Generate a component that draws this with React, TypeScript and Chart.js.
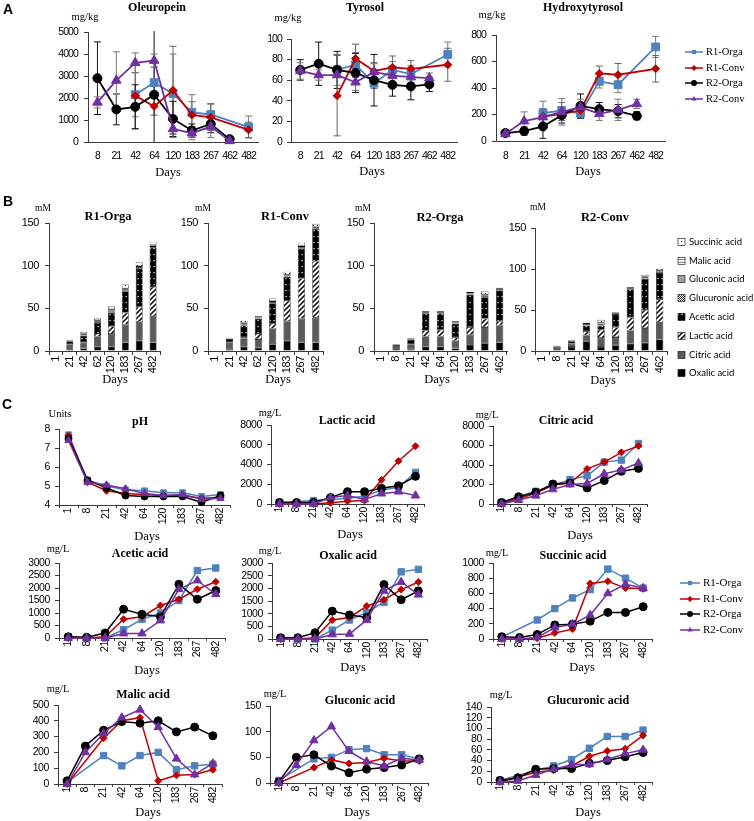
import React, { useEffect, useRef } from 'react';
import { Chart, registerables } from 'chart.js';

Chart.register(...registerables);

const W = 754;
const H = 821;
const SERIF = '"Liberation Serif", "Times New Roman", serif';
const SANS = '"Liberation Sans", Arial, sans-serif';
const LEGSANS = 'Lato, "Liberation Sans", Arial, sans-serif';
const ARIAL = '"Liberation Sans", Arial, sans-serif';
const AXIS = '#3a3a3a';

// ---------- series (A and C) ----------
const seriesNames = ['R1-Orga', 'R1-Conv', 'R2-Orga', 'R2-Conv'];
const seriesColors = ['#4F81BD', '#C00000', '#000000', '#7030A0'];
const seriesMarkers = ['rect', 'rectRot', 'circle', 'triangle'];
const seriesOrder = [3, 2, 1, 0];
const errorColors = ['#777777', '#666666', '#111111', '#777777'];

// ---------- Section A ----------
const daysA = ['8', '21', '42', '64', '120', '183', '267', '462', '482'];

const oleuR1Orga = [null, null, 2150, 2700, 2200, 1350, 1250, null, 680];
const oleuR1Conv = [null, null, 2100, 1620, 2350, 1230, 1120, null, 550];
const oleuR2Orga = [2900, 1480, 1600, 2150, 1050, 520, 820, 130, null];
const oleuR2Conv = [1800, 2800, 3600, 3700, 600, 400, 700, 50, null];
const oleuErrR1Orga = [null, null, 1000, 700, 1800, 800, 500, null, 500];
const oleuErrR1Conv = [null, null, 1500, 400, 2000, 600, 600, null, 350];
const oleuErrR2Orga = [1650, 700, 1000, 3000, 800, 300, 400, 100, null];
const oleuErrR2Conv = [250, 1300, 450, 300, 400, 300, 500, 50, null];

const tyrR1Orga = [null, null, 70, 75, 57, 70, 66, null, 85];
const tyrR1Conv = [null, null, 45, 81, 69, 72.5, 71, null, 75];
const tyrR2Orga = [70, 76, 70, 67, 60, 55.5, 54, 56, null];
const tyrR2Conv = [69, 65, 65, 58, 68, 64.5, 63, 62, null];
const tyrErrR1Orga = [null, null, 15, 12, 5, 8, 8, null, 12];
const tyrErrR1Conv = [null, null, 39, 14, 8, 11, 8, null, 16];
const tyrErrR2Orga = [10, 21, 18, 19, 25, 11, 13, 7, null];
const tyrErrR2Conv = [8, 5, 20, 8, 8, 6, 8, 5, null];

const hydR1Orga = [null, null, 210, 230, 210, 450, 425, null, 710];
const hydR1Conv = [null, null, 185, 205, 230, 510, 500, null, 545];
const hydR2Orga = [60, 75, 110, 195, 265, 240, 225, 190, null];
const hydR2Conv = [55, 150, 180, 220, 255, 205, 235, 280, null];
const hydErrR1Orga = [null, null, 90, 60, 40, 50, 60, null, 80];
const hydErrR1Conv = [null, null, 60, 50, 60, 55, 85, null, 100];
const hydErrR2Orga = [20, 30, 90, 60, 90, 50, 50, 30, null];
const hydErrR2Conv = [15, 70, 50, 100, 60, 50, 80, 35, null];

// ---------- Section B ----------
const acidNames = ['Oxalic acid', 'Citric acid', 'Lactic acid', 'Acetic acid', 'Glucuronic acid', 'Gluconic acid', 'Malic acid', 'Succinic acid'];
const daysBR1 = ['1', '21', '42', '62', '120', '183', '267', '482'];
const daysBR2 = ['1', '8', '21', '42', '64', '120', '183', '267', '462'];

const r1OrgaOxalic = [0, 1.5, 3, 5, 5, 10, 12, 10];
const r1OrgaCitric = [0, 6.5, 6, 12, 15, 21, 22, 31];
const r1OrgaLactic = [0, 0, 1, 3, 9, 14, 18, 34];
const r1OrgaAcetic = [0, 3.5, 8, 13, 16, 25, 44, 46];
const r1OrgaGlucuronic = [0, 0.3, 0.5, 1, 1, 1, 1, 1];
const r1OrgaGluconic = [0, 0.5, 1, 1, 1.5, 1.5, 1.5, 1.5];
const r1OrgaMalic = [0, 0.3, 1, 1, 1.5, 1, 1, 1];
const r1OrgaSuccinic = [0, 0.5, 2, 2, 3.5, 4.5, 4.5, 3.5];

const r1ConvOxalic = [0, 2, 5, 4, 8, 12, 10, 10];
const r1ConvCitric = [0, 8, 10, 10, 18, 23, 28, 29];
const r1ConvLactic = [0, 0, 1, 6, 6, 24, 47, 66];
const r1ConvAcetic = [0, 4, 14, 18, 24, 28, 35, 38];
const r1ConvGlucuronic = [0, 0.3, 1, 0.5, 0.5, 0.5, 1, 0.5];
const r1ConvGluconic = [0, 0.3, 1, 0.5, 1, 1, 1, 1];
const r1ConvMalic = [0, 0.2, 1, 0.5, 1, 1, 1, 1];
const r1ConvSuccinic = [0, 0.5, 2.5, 1.5, 3, 3.5, 4, 3.5];

const r2OrgaOxalic = [0, 0.5, 2, 5, 5, 3, 7, 9, 10];
const r2OrgaCitric = [0, 6.5, 6, 12, 12, 9, 12, 19, 20];
const r2OrgaLactic = [0, 0, 0, 7, 8, 4, 9, 10, 5];
const r2OrgaAcetic = [0, 0, 5, 20, 19, 16, 38, 25, 36];
const r2OrgaGlucuronic = [0, 0, 0.5, 0.5, 0.5, 0.5, 0.5, 0.5, 0.5];
const r2OrgaGluconic = [0, 0.5, 1, 1, 1, 1, 1, 1.5, 1];
const r2OrgaMalic = [0, 0.3, 0.5, 0.5, 0.5, 0.5, 0.5, 1, 0.5];
const r2OrgaSuccinic = [0, 0.5, 0.5, 1, 1, 1, 1.5, 4, 1];

const r2ConvOxalic = [0, 0.5, 5, 12, 5, 7, 9, 10, 14];
const r2ConvCitric = [0, 4.5, 4, 7, 11, 10, 16, 18, 21];
const r2ConvLactic = [0, 0, 0, 5, 10, 12, 16, 22, 28];
const r2ConvAcetic = [0, 0.5, 3, 7, 5, 16, 34, 38, 32];
const r2ConvGlucuronic = [0, 0, 0.3, 0.5, 0.5, 0.5, 0.5, 0.5, 0.5];
const r2ConvGluconic = [0, 0.5, 0.5, 1, 1, 1, 1, 1.5, 1.5];
const r2ConvMalic = [0, 0.3, 0.2, 0.5, 2, 0.5, 0.5, 1, 1];
const r2ConvSuccinic = [0, 0.2, 0.5, 1, 3.5, 0.5, 1, 2, 2];

// ---------- Section C ----------
const daysC = ['1', '8', '21', '42', '64', '120', '183', '267', '482'];

const phR1Orga = [7.7, 5.3, 5.0, 4.8, 4.75, 4.65, 4.65, 4.45, 4.55];
const phR1Conv = [7.65, 5.2, 4.75, 4.6, 4.55, 4.5, 4.5, 4.35, 4.4];
const phR2Orga = [7.5, 5.3, 4.9, 4.5, 4.45, 4.45, 4.45, 4.15, 4.5];
const phR2Conv = [7.4, 5.2, 5.05, 4.85, 4.6, 4.5, 4.55, 4.3, 4.35];

const lacR1Orga = [150, null, 350, 450, 550, 800, 1400, 1700, 3200];
const lacR1Conv = [0, null, 0, 120, 280, 350, 2450, 4350, 5850];
const lacR2Orga = [150, 150, 150, 650, 1250, 1250, 1600, 1850, 2800];
const lacR2Conv = [0, 0, 0, 650, 850, 450, 1050, 1250, 850];

const citR1Orga = [150, null, 1300, 1900, 2500, 2900, 4300, 4500, 6200];
const citR1Conv = [0, null, 1100, 1950, 2150, 3600, 4300, 5300, 5950];
const citR2Orga = [150, 750, 1200, 2050, 2150, 1650, 2400, 3350, 3650];
const citR2Conv = [0, 400, 850, 1500, 2000, 2100, 3100, 3500, 4200];

const aceR1Orga = [50, 0, 0, 330, 750, 1000, 1500, 2700, 2800];
const aceR1Conv = [0, 0, 50, 750, 850, 1300, 1550, 1950, 2250];
const aceR2Orga = [50, 30, 200, 1150, 950, 850, 2150, 1550, 1900];
const aceR2Conv = [0, 0, 0, 180, 180, 700, 1950, 2300, 1750];

const oxaR1Orga = [50, 0, 0, 350, 750, 1050, 1450, 2650, 2750];
const oxaR1Conv = [0, 0, 50, 750, 850, 1300, 1550, 1950, 2250];
const oxaR2Orga = [50, 50, 250, 1100, 950, 850, 2150, 1550, 1900];
const oxaR2Conv = [0, 0, 0, 180, 200, 750, 1900, 2250, 1750];

const sucR1Orga = [25, null, 250, 400, 540, 650, 920, 800, 670];
const sucR1Conv = [0, 0, 10, 80, 130, 730, 760, 670, 660];
const sucR2Orga = [30, 20, 60, 185, 195, 235, 350, 350, 425];
const sucR2Conv = [0, 0, 20, 150, 195, 315, 600, 720, 670];

const malR1Orga = [10, null, 180, 115, 180, 200, 90, 115, 125];
const malR1Conv = [0, null, 290, 400, 420, 20, 55, 60, 90];
const malR2Orga = [20, 240, 340, 395, 385, 400, 330, 360, 305];
const malR2Conv = [0, 200, 320, 420, 470, 360, 160, 60, 130];

const gluR1Orga = [5, null, 47, 50, 65, 67, 55, 55, 47];
const gluR1Conv = [0, null, 30, 45, 38, 40, 48, 43, 43];
const gluR2Orga = [2, 50, 55, 33, 20, 27, 30, 35, 47];
const gluR2Conv = [0, 35, 83, 110, 62, 42, 33, 48, 45];

const gcuR1Orga = [3, null, 22, 30, 42, 63, 85, 85, 97];
const gcuR1Conv = [0, null, 18, 22, 30, 48, 58, 62, 87];
const gcuR2Orga = [3, 8, 24, 25, 25, 35, 40, 47, 55];
const gcuR2Conv = [0, 2, 13, 24, 32, 33, 42, 53, 60];

// ---------- helpers ----------
const T = (t: string, x: number, y: number, font: string, align = 'center') => ({ t, x, y, font, align });
const titleF = `bold 12px ${SERIF}`;
const unitF = `10.5px ${SERIF}`;
const daysF = `12.5px ${SERIF}`;
const letterF = `bold 14px ${ARIAL}`;

function drawMarker(ctx: any, style: string, x: number, y: number, r: number, color: string) {
  ctx.save();
  ctx.fillStyle = color;
  ctx.beginPath();
  if (style === 'rect') {
    const s = r * Math.SQRT1_2;
    ctx.rect(x - s, y - s, 2 * s, 2 * s);
  } else if (style === 'rectRot') {
    ctx.moveTo(x, y - r); ctx.lineTo(x + r, y); ctx.lineTo(x, y + r); ctx.lineTo(x - r, y); ctx.closePath();
  } else if (style === 'triangle') {
    ctx.moveTo(x, y - r); ctx.lineTo(x + r * 0.866, y + r * 0.5); ctx.lineTo(x - r * 0.866, y + r * 0.5); ctx.closePath();
  } else {
    ctx.arc(x, y, r, 0, Math.PI * 2);
  }
  ctx.fill();
  ctx.restore();
}

function spacingPlugin(sp: string) {
  return {
    id: 'tickSpacing',
    beforeDraw(chart: any) { chart.ctx.letterSpacing = sp; },
    afterDraw(chart: any) { chart.ctx.letterSpacing = '0px'; },
  };
}

function textPlugin(texts: any[]) {
  return {
    id: 'panelTexts',
    afterDraw(chart: any) {
      const ctx = chart.ctx;
      ctx.save();
      ctx.letterSpacing = '0px';
      ctx.fillStyle = '#000';
      ctx.textBaseline = 'middle';
      for (const it of texts) {
        ctx.font = it.font;
        ctx.textAlign = it.align;
        ctx.fillText(it.t, it.x, it.y);
      }
      ctx.restore();
    },
  };
}

function errorPlugin(errors: any[]) {
  return {
    id: 'errorBars',
    beforeDatasetsDraw(chart: any) {
      const ctx = chart.ctx;
      const ys = chart.scales.y;
      const a = chart.chartArea;
      ctx.save();
      ctx.beginPath();
      ctx.rect(a.left, a.top - 1, a.right - a.left, a.bottom - a.top + 1);
      ctx.clip();
      ctx.lineWidth = 1;
      errors.forEach((errs: any[], i: number) => {
        const meta = chart.getDatasetMeta(i);
        const vals = chart.data.datasets[i].data;
        ctx.strokeStyle = errorColors[i];
        errs.forEach((e: any, j: number) => {
          const v = vals[j];
          if (e == null || v == null) return;
          const x = meta.data[j].x;
          const yt = ys.getPixelForValue(v + e);
          const yb = ys.getPixelForValue(v - e);
          ctx.beginPath();
          ctx.moveTo(x, yt); ctx.lineTo(x, yb);
          ctx.moveTo(x - 3.5, yt); ctx.lineTo(x + 3.5, yt);
          ctx.moveTo(x - 3.5, yb); ctx.lineTo(x + 3.5, yb);
          ctx.stroke();
        });
      });
      ctx.restore();
    },
  };
}

function lineLegendPlugin(lg: any) {
  return {
    id: 'lineLegend',
    afterDraw(chart: any) {
      const ctx = chart.ctx;
      ctx.save();
      ctx.letterSpacing = '0px';
      seriesNames.forEach((name, i) => {
        const y = lg.ys[i];
        ctx.strokeStyle = seriesColors[i];
        ctx.lineWidth = 1.5;
        ctx.beginPath(); ctx.moveTo(lg.x0, y); ctx.lineTo(lg.x1, y); ctx.stroke();
        drawMarker(ctx, seriesMarkers[i], (lg.x0 + lg.x1) / 2, y, lg.r, seriesColors[i]);
        ctx.fillStyle = '#000';
        ctx.font = lg.font;
        ctx.textAlign = 'left';
        ctx.textBaseline = 'middle';
        ctx.fillText(name, lg.tx, y);
      });
      ctx.restore();
    },
  };
}

function barLegendPlugin(lg: any) {
  return {
    id: 'barLegend',
    afterDraw(chart: any) {
      const ctx = chart.ctx;
      const ds = chart.data.datasets;
      ctx.save();
      ctx.letterSpacing = '0px';
      for (let k = ds.length - 1, row = 0; k >= 0; k--, row++) {
        const y = lg.ys[row];
        ctx.fillStyle = ds[k].backgroundColor;
        ctx.fillRect(lg.bx, y - lg.s / 2, lg.s, lg.s);
        ctx.strokeStyle = '#000';
        ctx.lineWidth = 0.6;
        ctx.strokeRect(lg.bx, y - lg.s / 2, lg.s, lg.s);
        ctx.fillStyle = '#000';
        ctx.font = lg.font;
        ctx.textAlign = 'left';
        ctx.textBaseline = 'middle';
        ctx.fillText(ds[k].label, lg.tx, y);
      }
      ctx.restore();
    },
  };
}

function makeFills(ctx: any) {
  const tile = (w: number, h: number, draw: (g: any) => void) => {
    const c = document.createElement('canvas');
    c.width = w; c.height = h;
    const g = c.getContext('2d');
    draw(g);
    return ctx.createPattern(c, 'repeat');
  };
  return [
    '#000000',
    '#5a5a5a',
    tile(5, 5, (g) => {
      g.fillStyle = '#fff'; g.fillRect(0, 0, 5, 5);
      g.strokeStyle = '#000'; g.lineWidth = 1.5; g.beginPath();
      g.moveTo(-1, 6); g.lineTo(6, -1); g.moveTo(-3.5, 3.5); g.lineTo(3.5, -3.5); g.moveTo(1.5, 8.5); g.lineTo(8.5, 1.5);
      g.stroke();
    }),
    tile(4, 6, (g) => { g.fillStyle = '#000'; g.fillRect(0, 0, 4, 6); g.fillStyle = '#fff'; g.fillRect(1.5, 2, 1.2, 1.2); }),
    tile(2, 2, (g) => { g.fillStyle = '#fff'; g.fillRect(0, 0, 2, 2); g.fillStyle = '#333'; g.fillRect(0, 0, 1, 1); g.fillRect(1, 1, 1, 1); }),
    '#a0a0a0',
    tile(4, 3, (g) => { g.fillStyle = '#fff'; g.fillRect(0, 0, 4, 3); g.fillStyle = '#666'; g.fillRect(0, 1, 4, 0.8); }),
    tile(4, 4, (g) => { g.fillStyle = '#fff'; g.fillRect(0, 0, 4, 4); g.fillStyle = '#222'; g.fillRect(1, 1, 1, 1); }),
  ];
}

// ---------- panels ----------
const radA = [5.5, 4, 4.5, 5.5];
const radC = [4.5, 3.5, 4, 4.8];
const legA = { x0: 685, x1: 703, tx: 706, ys: [52, 68, 83, 99], r: 3, font: `10.5px ${SERIF}` };
const legC = { x0: 680, x1: 700, tx: 703, ys: [583, 599, 614, 630], r: 3, font: `11px ${SERIF}` };
const legB = { bx: 678, s: 7, tx: 689, ys: [242, 261, 279, 298, 317, 336, 355, 373], font: `9.5px ${LEGSANS}` };

const panels: any[] = [
  {
    kind: 'line', labels: daysA, values: [oleuR1Orga, oleuR1Conv, oleuR2Orga, oleuR2Conv],
    errors: [oleuErrR1Orga, oleuErrR1Conv, oleuErrR2Orga, oleuErrR2Conv], sp: '-0.9px',
    plot: [88, 32, 258, 142], y: [0, 5000, 1000], rotate: false, radii: radA, lw: 1.8, tick: 10.5, xTick: 0, xPad: 8, yPad: 6,
    texts: [T('A', 8, 10, letterF), T('Oleuropein', 157, 8, titleF), T('mg/kg', 85, 17, unitF), T('Days', 168, 173, daysF)],
  },
  {
    kind: 'line', labels: daysA, values: [tyrR1Orga, tyrR1Conv, tyrR2Orga, tyrR2Conv],
    errors: [tyrErrR1Orga, tyrErrR1Conv, tyrErrR2Orga, tyrErrR2Conv], sp: '-0.9px',
    plot: [291, 39, 457, 142], y: [0, 100, 20], rotate: false, radii: radA, lw: 1.8, tick: 10.5, xTick: 0, xPad: 8, yPad: 5,
    texts: [T('Tyrosol', 365, 8, titleF), T('mg/kg', 288, 18, unitF), T('Days', 372, 172, daysF)],
  },
  {
    kind: 'line', labels: daysA, values: [hydR1Orga, hydR1Conv, hydR2Orga, hydR2Conv],
    errors: [hydErrR1Orga, hydErrR1Conv, hydErrR2Orga, hydErrR2Conv], sp: '-0.9px',
    plot: [496, 35, 665, 141], y: [0, 800, 200], rotate: false, radii: radA, lw: 1.8, tick: 10.5, xTick: 0, xPad: 9, yPad: 6,
    texts: [T('Hydroxytyrosol', 583, 8, titleF), T('mg/kg', 492, 15, unitF), T('Days', 588, 172, daysF)],
    legend: legA,
  },
  {
    kind: 'bar', labels: daysBR1,
    stacks: [r1OrgaOxalic, r1OrgaCitric, r1OrgaLactic, r1OrgaAcetic, r1OrgaGlucuronic, r1OrgaGluconic, r1OrgaMalic, r1OrgaSuccinic],
    plot: [49, 223, 160, 351], y: [0, 150, 50], rotate: true, tick: 11, xTick: 4, xPad: 1, yPad: 6,
    texts: [T('B', 8, 202, letterF), T('R1-Orga', 108, 217, `bold 12.5px ${SERIF}`), T('mM', 43, 208, `9.5px ${SERIF}`), T('Days', 115, 380, daysF)],
  },
  {
    kind: 'bar', labels: daysBR1,
    stacks: [r1ConvOxalic, r1ConvCitric, r1ConvLactic, r1ConvAcetic, r1ConvGlucuronic, r1ConvGluconic, r1ConvMalic, r1ConvSuccinic],
    plot: [208, 223, 323, 351], y: [0, 150, 50], rotate: true, tick: 11, xTick: 4, xPad: 1, yPad: 6,
    texts: [T('R1-Conv', 285, 217, `bold 12.5px ${SERIF}`), T('mM', 203, 208, `9.5px ${SERIF}`), T('Days', 278, 380, daysF)],
  },
  {
    kind: 'bar', labels: daysBR2,
    stacks: [r2OrgaOxalic, r2OrgaCitric, r2OrgaLactic, r2OrgaAcetic, r2OrgaGlucuronic, r2OrgaGluconic, r2OrgaMalic, r2OrgaSuccinic],
    plot: [374, 223, 507, 351], y: [0, 150, 50], rotate: true, tick: 11, xTick: 4, xPad: 1, yPad: 6,
    texts: [T('R2-Orga', 440, 218, `bold 12.5px ${SERIF}`), T('mM', 363, 208, `9.5px ${SERIF}`), T('Days', 437, 380, daysF)],
  },
  {
    kind: 'bar', labels: daysBR2,
    stacks: [r2ConvOxalic, r2ConvCitric, r2ConvLactic, r2ConvAcetic, r2ConvGlucuronic, r2ConvGluconic, r2ConvMalic, r2ConvSuccinic],
    plot: [535, 228, 667, 351], y: [0, 150, 50], rotate: true, tick: 11, xTick: 4, xPad: 1, yPad: 5,
    texts: [T('R2-Conv', 605, 218, `bold 12.5px ${SERIF}`), T('mM', 538, 207, `9.5px ${SERIF}`), T('Days', 603, 381, daysF)],
    legend: legB,
  },
  {
    kind: 'line', labels: daysC, values: [phR1Orga, phR1Conv, phR2Orga, phR2Conv],
    plot: [59, 429, 230, 505], y: [4, 8, 1], rotate: true, radii: [4, 3.5, 3.5, 4.2], lw: 1.5, tick: 10.5, xTick: 3, xPad: 0, yPad: 5,
    texts: [T('C', 7, 405, letterF), T('pH', 140, 422, titleF), T('Units', 60, 414, unitF), T('Days', 147, 537, daysF)],
  },
  {
    kind: 'line', labels: daysC, values: [lacR1Orga, lacR1Conv, lacR2Orga, lacR2Conv],
    plot: [271, 425, 424, 504], y: [0, 8000, 2000], rotate: true, radii: radC, lw: 1.5, tick: 10.5, xTick: 3, xPad: 0, yPad: 5,
    texts: [T('Lactic acid', 347, 421, titleF), T('mg/L', 270, 413, unitF), T('Days', 350, 535, daysF)],
  },
  {
    kind: 'line', labels: daysC, values: [citR1Orga, citR1Conv, citR2Orga, citR2Conv],
    plot: [493, 426, 647, 504], y: [0, 8000, 2000], rotate: true, radii: radC, lw: 1.5, tick: 10.5, xTick: 3, xPad: 0, yPad: 5,
    texts: [T('Citric acid', 566, 421, titleF), T('mg/L', 487, 415, unitF), T('Days', 580, 536, daysF)],
  },
  {
    kind: 'line', labels: daysC, values: [aceR1Orga, aceR1Conv, aceR2Orga, aceR2Conv],
    plot: [59, 563, 225, 638], y: [0, 3000, 500], rotate: true, radii: radC, lw: 1.5, tick: 10.5, xTick: 3, xPad: 0, yPad: 5,
    texts: [T('Acetic acid', 140, 554, titleF), T('mg/L', 58, 549, unitF), T('Days', 147, 671, daysF)],
  },
  {
    kind: 'line', labels: daysC, values: [oxaR1Orga, oxaR1Conv, oxaR2Orga, oxaR2Conv],
    plot: [272, 563, 427, 639], y: [0, 3000, 500], rotate: true, radii: radC, lw: 1.5, tick: 10.5, xTick: 3, xPad: 0, yPad: 5,
    texts: [T('Oxalic acid', 348, 556, titleF), T('mg/L', 270, 551, unitF), T('Days', 353, 668, daysF)],
  },
  {
    kind: 'line', labels: daysC, values: [sucR1Orga, sucR1Conv, sucR2Orga, sucR2Conv],
    plot: [493, 563, 652, 639], y: [0, 1000, 200], rotate: true, radii: radC, lw: 1.5, tick: 10.5, xTick: 3, xPad: 0, yPad: 5,
    texts: [T('Succinic acid', 573, 556, titleF), T('mg/L', 497, 553, unitF), T('Days', 582, 668, daysF)],
    legend: legC,
  },
  {
    kind: 'line', labels: daysC, values: [malR1Orga, malR1Conv, malR2Orga, malR2Conv],
    plot: [58, 705, 222, 784], y: [0, 500, 100], rotate: true, radii: radC, lw: 1.5, tick: 10.5, xTick: 3, xPad: 0, yPad: 5,
    texts: [T('Malic acid', 143, 695, titleF), T('mg/L', 58, 689, unitF), T('Days', 148, 813, daysF)],
  },
  {
    kind: 'line', labels: daysC, values: [gluR1Orga, gluR1Conv, gluR2Orga, gluR2Conv],
    plot: [270, 706, 428, 783], y: [0, 150, 50], rotate: true, radii: radC, lw: 1.5, tick: 10.5, xTick: 3, xPad: 0, yPad: 5,
    texts: [T('Gluconic acid', 360, 701, titleF), T('mg/L', 275, 694, unitF), T('Days', 357, 813, daysF)],
  },
  {
    kind: 'line', labels: daysC, values: [gcuR1Orga, gcuR1Conv, gcuR2Orga, gcuR2Conv],
    plot: [491, 707, 652, 782], y: [0, 140, 20], rotate: true, radii: radC, lw: 1.5, tick: 10.5, xTick: 3, xPad: 0, yPad: 5,
    texts: [T('Glucuronic acid', 588, 701, titleF), T('mg/L', 501, 695, unitF), T('Days', 588, 813, daysF)],
  },
];

function buildConfig(p: any, canvas: HTMLCanvasElement) {
  const [x0, y0, x1, y1] = p.plot;
  const YW = 40;
  const XH = 30;
  const rot = p.rotate ? 90 : 0;
  const isBar = p.kind === 'bar';
  const scales: any = {
    x: {
      type: 'category',
      offset: true,
      stacked: isBar,
      grid: { display: p.xTick > 0, drawOnChartArea: false, drawTicks: p.xTick > 0, tickLength: p.xTick, offset: true, color: AXIS },
      border: { display: true, color: AXIS, width: 1 },
      ticks: { autoSkip: false, minRotation: rot, maxRotation: rot, padding: p.xPad, color: '#000', font: { family: SANS, size: p.tick } },
      afterFit: (s: any) => { s.height = XH; },
    },
    y: {
      type: 'linear',
      min: p.y[0],
      max: p.y[1],
      stacked: isBar,
      grid: { display: true, drawOnChartArea: false, drawTicks: true, tickLength: 4, color: AXIS },
      border: { display: true, color: AXIS, width: 1 },
      ticks: { autoSkip: false, stepSize: p.y[2], padding: p.yPad, color: '#000', font: { family: SANS, size: p.tick }, callback: (v: any) => String(v) },
      afterFit: (s: any) => { s.width = YW; },
    },
  };
  const options: any = {
    responsive: false,
    animation: false,
    events: [],
    layout: { padding: { left: x0 - YW, top: y0, right: W - x1, bottom: H - y1 - XH } },
    plugins: { legend: { display: false }, tooltip: { enabled: false }, title: { display: false } },
    scales,
  };
  const plugins: any[] = [spacingPlugin(p.sp || '-0.4px'), textPlugin(p.texts)];
  let datasets: any[];
  if (isBar) {
    const fills = makeFills(canvas.getContext('2d'));
    datasets = p.stacks.map((vals: number[], k: number) => ({
      label: acidNames[k],
      data: vals,
      backgroundColor: fills[k],
      borderColor: '#000',
      borderWidth: 0.6,
      borderSkipped: false,
      categoryPercentage: 1,
      barPercentage: 0.5,
    }));
    if (p.legend) plugins.push(barLegendPlugin(p.legend));
  } else {
    datasets = p.values.map((vals: any[], i: number) => ({
      label: seriesNames[i],
      data: vals,
      borderColor: seriesColors[i],
      backgroundColor: seriesColors[i],
      pointBackgroundColor: seriesColors[i],
      pointBorderColor: seriesColors[i],
      pointBorderWidth: 1,
      pointStyle: seriesMarkers[i],
      pointRadius: p.radii[i],
      borderWidth: p.lw,
      tension: 0,
      fill: false,
      spanGaps: true,
      order: seriesOrder[i],
      clip: 10,
    }));
    if (p.errors) plugins.push(errorPlugin(p.errors));
    if (p.legend) plugins.push(lineLegendPlugin(p.legend));
  }
  return { type: p.kind, data: { labels: p.labels, datasets }, options, plugins };
}

export default function App() {
  const refs = useRef<(HTMLCanvasElement | null)[]>([]);
  useEffect(() => {
    const charts = panels.map((p, i) => {
      const canvas = refs.current[i] as HTMLCanvasElement;
      return new Chart(canvas, buildConfig(p, canvas) as any);
    });
    return () => charts.forEach((c) => c.destroy());
  }, []);
  return (
    <div style={{ position: 'absolute', left: 0, top: 0, width: W, height: H, background: '#fff', overflow: 'hidden' }}>
      {panels.map((_, i) => (
        <canvas
          key={i}
          ref={(el) => { refs.current[i] = el; }}
          width={W}
          height={H}
          style={{ position: 'absolute', left: 0, top: 0, width: W, height: H }}
        />
      ))}
    </div>
  );
}
